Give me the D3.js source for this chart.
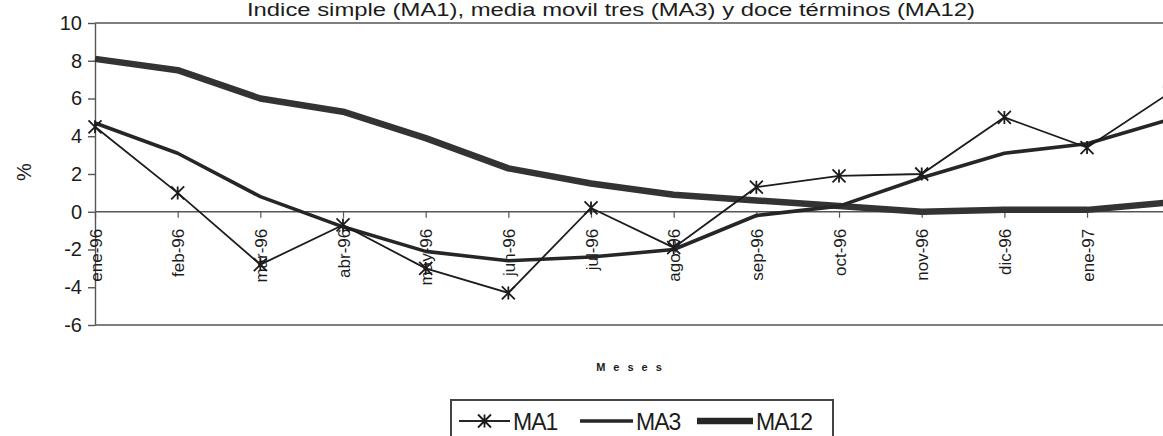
<!DOCTYPE html>
<html>
<head>
<meta charset="utf-8">
<script src="https://cdn.jsdelivr.net/npm/d3@7"></script>
<style>
  html, body { margin: 0; padding: 0; background: #fff; overflow: hidden; }
  svg { display: block; font-family: "Liberation Sans", Arial, sans-serif; }
</style>
</head>
<body>
<svg id="chart" width="1163" height="436"></svg>
<script>
// Months shown on the category axis
const meses = ["ene-96", "feb-96", "mar-96", "abr-96", "may-96", "jun-96", "jul-96",
               "ago-96", "sep-96", "oct-96", "nov-96", "dic-96", "ene-97", "feb-97"];

// Simple index (MA1)
const ma1 = [4.5, 1.0, -2.8, -0.7, -3.0, -4.3, 0.2, -1.9, 1.3, 1.9, 2.0, 5.0, 3.4, 6.3];
// Three-term moving average (MA3)
const ma3 = [4.7, 3.1, 0.8, -0.8, -2.1, -2.6, -2.4, -2.0, -0.2, 0.3, 1.8, 3.1, 3.6, 4.9];
// Twelve-term moving average (MA12)
const ma12 = [8.1, 7.5, 6.0, 5.3, 3.9, 2.3, 1.5, 0.9, 0.6, 0.3, 0.0, 0.1, 0.1, 0.5];

const yTicks = [-6, -4, -2, 0, 2, 4, 6, 8, 10];

const titulo = "Indice simple (MA1),  media movil tres (MA3) y doce términos (MA12)";

const svg = d3.select("#chart");
const W = 1163, H = 436;

const step = 82.67;
const x = d3.scalePoint().domain(meses).range([95, 95 + step * (meses.length - 1)]);
const y = d3.scaleLinear().domain([-6, 10]).range([325, 23]);

const ink = "#1c1c1c";
const axisInk = "#555";

// Title
svg.append("text")
  .attr("x", 247).attr("y", 16)
  .attr("textLength", 728).attr("lengthAdjust", "spacingAndGlyphs")
  .style("font-size", "18px").attr("fill", ink)
  .text(titulo);

// Plot area border (top and bottom edges)
svg.append("line").attr("x1", 95).attr("x2", W).attr("y1", y(10)).attr("y2", y(10))
  .attr("stroke", axisInk).attr("stroke-width", 1.6);
svg.append("line").attr("x1", 95).attr("x2", W).attr("y1", y(-6)).attr("y2", y(-6))
  .attr("stroke", axisInk).attr("stroke-width", 1.6);

// Value axis (plain hyphen for negatives)
const yAxis = svg.append("g").attr("transform", "translate(95,0)")
  .call(d3.axisLeft(y).tickValues(yTicks).tickFormat(d => String(d))
    .tickSize(7).tickPadding(6).tickSizeOuter(0));
yAxis.select(".domain").attr("stroke", axisInk).attr("stroke-width", 1.4);
yAxis.selectAll(".tick line").attr("stroke", axisInk).attr("stroke-width", 1.4);
yAxis.selectAll(".tick text")
  .style("font-size", "20px").attr("fill", ink)
  .style("font-family", "'Liberation Sans', Arial, sans-serif");

// Category axis at zero
const xAxis = svg.append("g").attr("transform", `translate(0,${y(0)})`)
  .call(d3.axisBottom(x).tickSize(6).tickSizeOuter(0));
xAxis.select(".domain").attr("stroke", axisInk).attr("stroke-width", 1.6)
  .attr("d", `M95,0H${W}`);
xAxis.selectAll(".tick line").attr("stroke", axisInk).attr("stroke-width", 1.2);
xAxis.selectAll(".tick text")
  .attr("transform", "rotate(-90)")
  .attr("x", -17).attr("y", 0).attr("dy", "0.36em")
  .attr("text-anchor", "end")
  .style("font-size", "17px").attr("fill", ink)
  .style("font-family", "'Liberation Sans', Arial, sans-serif");

// Axis titles
svg.append("text")
  .attr("transform", "translate(31,172) rotate(-90)")
  .attr("text-anchor", "middle")
  .style("font-size", "20px").attr("fill", ink)
  .text("%");

svg.append("text")
  .attr("x", 633).attr("y", 371)
  .attr("text-anchor", "middle")
  .style("font-size", "11px").style("font-weight", "bold")
  .style("letter-spacing", "8px")
  .attr("fill", ink)
  .text("Meses");

// Series lines
const line = d3.line().x((d, i) => x(meses[i])).y(d => y(d));

svg.append("path").datum(ma12).attr("d", line)
  .attr("fill", "none").attr("stroke", "#333").attr("stroke-width", 6.5)
  .attr("stroke-linejoin", "round");
svg.append("path").datum(ma3).attr("d", line)
  .attr("fill", "none").attr("stroke", "#262626").attr("stroke-width", 3.6)
  .attr("stroke-linejoin", "round");
svg.append("path").datum(ma1).attr("d", line)
  .attr("fill", "none").attr("stroke", ink).attr("stroke-width", 1.8);

// Star markers for MA1
const star = r => `M0,${-r}V${r}M${-r},${-r}L${r},${r}M${-r},${r}L${r},${-r}`;
svg.append("g").selectAll("path").data(ma1).join("path")
  .attr("transform", (d, i) => `translate(${x(meses[i])},${y(d)})`)
  .attr("d", star(6.5))
  .attr("fill", "none").attr("stroke", ink).attr("stroke-width", 1.8);

// Legend
const lg = svg.append("g");
lg.append("rect").attr("x", 451).attr("y", 400).attr("width", 382).attr("height", 60)
  .attr("fill", "#fff").attr("stroke", "#444").attr("stroke-width", 2);

const items = [
  { name: "MA1", x0: 459, x1: 510, w: 1.8, star: true },
  { name: "MA3", x0: 580, x1: 633, w: 3.6, star: false },
  { name: "MA12", x0: 697, x1: 753, w: 6.5, star: false }
];
const ly = 421;
items.forEach(it => {
  lg.append("line").attr("x1", it.x0).attr("x2", it.x1).attr("y1", ly).attr("y2", ly)
    .attr("stroke", "#262626").attr("stroke-width", it.w);
  if (it.star) {
    lg.append("path").attr("transform", `translate(${(it.x0 + it.x1) / 2},${ly})`)
      .attr("d", star(6.5)).attr("fill", "none").attr("stroke", ink).attr("stroke-width", 1.8);
  }
  lg.append("text").attr("x", it.x1 + 3).attr("y", ly + 9)
    .style("font-size", "23px").attr("fill", ink)
    .style("letter-spacing", "-1px")
    .text(it.name);
});
</script>
</body>
</html>
